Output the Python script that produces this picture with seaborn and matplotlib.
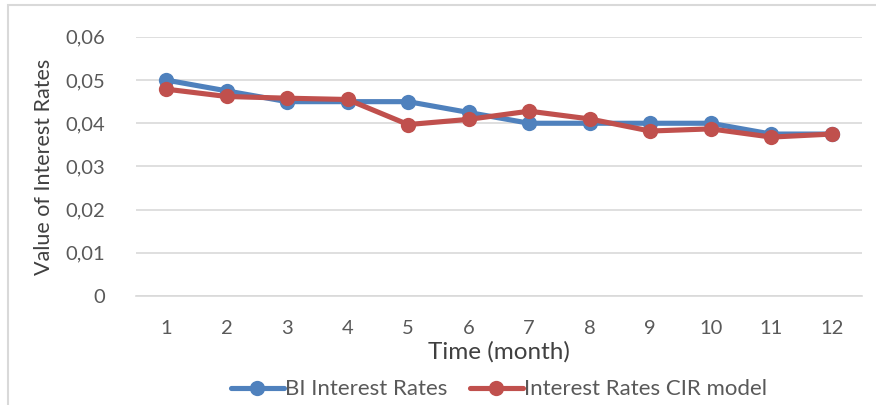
import matplotlib
matplotlib.use('Agg')
import matplotlib.pyplot as plt
import matplotlib.ticker as mticker
from matplotlib.patches import Rectangle
import seaborn as sns
import pandas as pd

# Data
months = [1, 2, 3, 4, 5, 6, 7, 8, 9, 10, 11, 12]
bi_rates = [0.050, 0.0475, 0.045, 0.045, 0.045, 0.0425, 0.040, 0.040, 0.040, 0.040, 0.0375, 0.0375]
cir_rates = [0.0479, 0.0462, 0.0458, 0.0455, 0.0397, 0.0409, 0.0428, 0.0410, 0.0382, 0.0387, 0.0368, 0.0375]
series_names = ['BI Interest Rates', 'Interest Rates CIR model']
yticks = [0, 0.01, 0.02, 0.03, 0.04, 0.05, 0.06]

df = pd.DataFrame({
    'Month': months * 2,
    'Rate': bi_rates + cir_rates,
    'Series': [series_names[0]] * len(months) + [series_names[1]] * len(months),
})

sns.set_style('white')
plt.rcParams['font.family'] = ['Lato', 'DejaVu Sans']

fig = plt.figure(figsize=(8.76, 4.05), dpi=100)
ax = fig.add_axes([0.155, 0.269, 0.829, 0.640])

palette = {series_names[0]: '#4F81BD', series_names[1]: '#C0504D'}
sns.lineplot(data=df, x='Month', y='Rate', hue='Series', palette=palette,
             marker='o', markersize=11, markeredgewidth=0, linewidth=3.7,
             ax=ax, legend=True, zorder=3)

ax.set_xlim(0.5, 12.5)
ax.set_ylim(0, 0.06)
ax.set_xticks(months)
ax.set_yticks(yticks)
ax.yaxis.set_major_formatter(mticker.FuncFormatter(
    lambda v, _: '0' if v == 0 else f'{v:.2f}'.replace('.', ',')))
ax.tick_params(axis='both', length=0, labelsize=14.5, labelcolor='#595959')
ax.tick_params(axis='y', pad=22)
ax.tick_params(axis='x', pad=17)
ax.grid(axis='y', color='#D9D9D9', linewidth=1.2)
ax.set_axisbelow(True)
for side in ['top', 'right', 'left']:
    ax.spines[side].set_visible(False)
ax.spines['bottom'].set_color('#D9D9D9')
ax.spines['bottom'].set_linewidth(1.2)

ax.set_xlabel('Time (month)', fontsize=17.5, color='#404040', labelpad=3)
ax.set_ylabel('Value of Interest Rates', fontsize=15.5, color='#404040', labelpad=8)

ax.legend(loc='center', bbox_to_anchor=(0.5, -0.36), ncol=2, frameon=False,
          fontsize=16, labelcolor='#595959', handlelength=2.4, handletextpad=0.05,
          columnspacing=1.0)

# light chart-area border (left and top visible in the reference)
fig.patches.append(Rectangle((8 / 876, -0.1), 1.2, 1.1 - 5 / 405,
                             transform=fig.transFigure, fill=False,
                             edgecolor='#D9D9D9', linewidth=1.5))

fig.savefig('out.png', dpi=100, facecolor='white')
